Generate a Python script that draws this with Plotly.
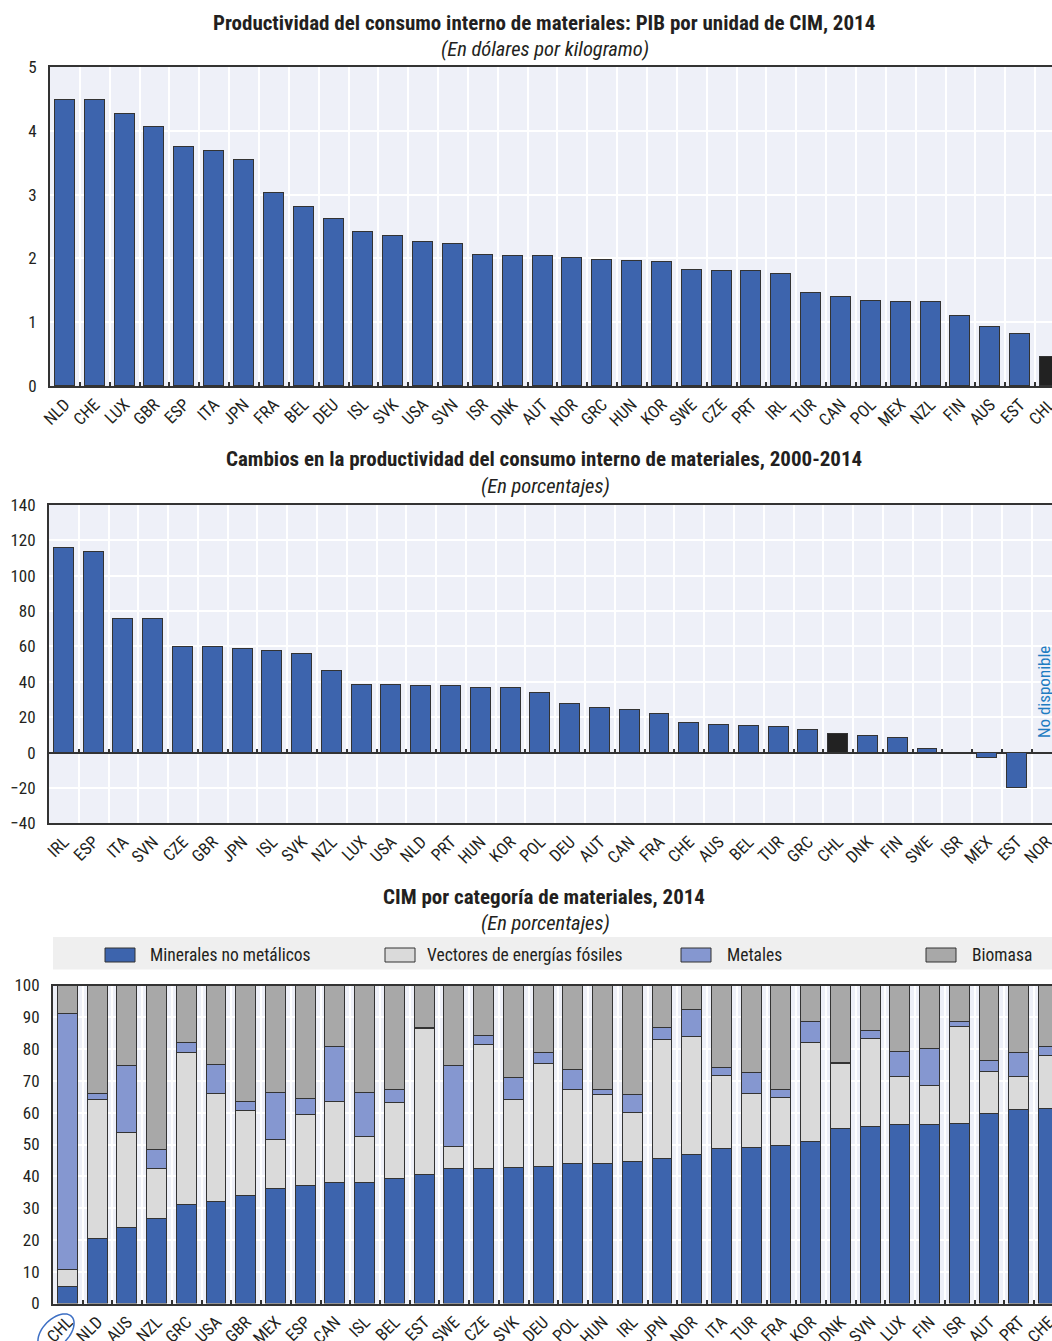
import math
import plotly.graph_objects as go

# ---------------- data ----------------
prod_countries = ["NLD", "CHE", "LUX", "GBR", "ESP", "ITA", "JPN", "FRA", "BEL", "DEU", "ISL", "SVK",
                  "USA", "SVN", "ISR", "DNK", "AUT", "NOR", "GRC", "HUN", "KOR", "SWE", "CZE", "PRT",
                  "IRL", "TUR", "CAN", "POL", "MEX", "NZL", "FIN", "AUS", "EST", "CHL"]
prod_values = [4.49, 4.48, 4.27, 4.06, 3.74, 3.69, 3.55, 3.03, 2.80, 2.62, 2.42, 2.35,
               2.25, 2.23, 2.05, 2.04, 2.03, 2.01, 1.98, 1.96, 1.95, 1.82, 1.81, 1.81,
               1.76, 1.46, 1.39, 1.34, 1.32, 1.32, 1.10, 0.92, 0.81, 0.45]

chg_countries = ["IRL", "ESP", "ITA", "SVN", "CZE", "GBR", "JPN", "ISL", "SVK", "NZL", "LUX", "USA",
                 "NLD", "PRT", "HUN", "KOR", "POL", "DEU", "AUT", "CAN", "FRA", "CHE", "AUS", "BEL",
                 "TUR", "GRC", "CHL", "DNK", "FIN", "SWE", "ISR", "MEX", "EST", "NOR"]
chg_values = [115.7, 113.4, 75.7, 75.4, 59.9, 59.7, 58.8, 57.3, 55.6, 46.2, 38.1, 38.1,
              37.9, 37.5, 36.6, 36.4, 33.8, 27.7, 25.1, 23.8, 21.7, 17.0, 15.8, 14.9,
              14.5, 12.5, 10.6, 9.4, 8.5, 1.9, 0.0, -3.2, -19.8, None]

cat_countries = ["CHL", "NLD", "AUS", "NZL", "GRC", "USA", "GBR", "MEX", "ESP", "CAN", "ISL", "BEL",
                 "EST", "SWE", "CZE", "SVK", "DEU", "POL", "HUN", "IRL", "JPN", "NOR", "ITA", "TUR",
                 "FRA", "KOR", "DNK", "SVN", "LUX", "FIN", "ISR", "AUT", "PRT", "CHE"]
minerales = [5.4, 20.5, 23.9, 26.7, 31.2, 32.1, 34.0, 36.1, 37.1, 38.1, 38.2, 39.4,
             40.6, 42.4, 42.6, 42.8, 43.2, 44.1, 44.1, 44.7, 45.5, 46.9, 48.7, 49.0,
             49.8, 50.9, 55.1, 55.6, 56.2, 56.2, 56.5, 59.8, 60.9, 61.4]
vectores = [5.3, 43.5, 29.8, 15.7, 47.6, 33.9, 26.8, 15.4, 22.3, 25.4, 14.4, 23.7,
            45.9, 7.1, 38.9, 21.4, 32.4, 23.3, 21.7, 15.4, 37.5, 37.0, 22.9, 17.0,
            15.1, 31.3, 20.5, 27.8, 15.2, 12.5, 30.5, 13.3, 10.6, 16.7]
metales = [80.4, 2.0, 21.3, 6.1, 3.4, 9.1, 2.7, 15.0, 5.1, 17.3, 13.7, 4.1,
           0.4, 25.3, 2.7, 6.8, 3.2, 6.1, 1.4, 5.7, 3.9, 8.5, 2.6, 6.8,
           2.3, 6.4, 0.2, 2.6, 7.8, 11.5, 1.6, 3.4, 7.5, 2.8]
biomasa = [8.9, 34.0, 25.0, 51.5, 17.8, 24.9, 36.5, 33.5, 35.5, 19.2, 33.7, 32.8,
           13.1, 25.2, 15.8, 29.0, 21.2, 26.5, 32.8, 34.2, 13.1, 7.6, 25.8, 27.2,
           32.8, 11.4, 24.2, 14.0, 20.8, 19.8, 11.4, 23.5, 21.0, 19.1]

series_names = ["Minerales no metálicos", "Vectores de energías fósiles", "Metales", "Biomasa"]

titles = [
    "Productividad del consumo interno de materiales: PIB por unidad de CIM, 2014",
    "Cambios en la productividad del consumo interno de materiales, 2000-2014",
    "CIM por categoría de materiales, 2014",
]
subtitles = ["(En dólares por kilogramo)", "(En porcentajes)", "(En porcentajes)"]
no_data_text = "No disponible"

# ---------------- styles ----------------
W, H = 1052, 1341
BLUE = "#3d64ad"
BLACK = "#222222"
BG = "#eef0f8"
EDGE = "#333333"
COL_VEC = "#dadada"
COL_MET = "#8597d0"
COL_BIO = "#a8a8a8"
TXT = "#231f20"
FONT = "Liberation Sans Narrow, Arial Narrow, Roboto Condensed, Liberation Sans, sans-serif"
BAR_W = 0.67


def py(p):
    return 1 - p / H


fig = go.Figure()

# chart 1
fig.add_trace(go.Bar(
    x=prod_countries, y=prod_values, xaxis="x", yaxis="y", width=BAR_W,
    marker=dict(color=[BLACK if c == "CHL" else BLUE for c in prod_countries],
                line=dict(color=EDGE, width=1)),
    showlegend=False))

# chart 2
fig.add_trace(go.Bar(
    x=chg_countries, y=chg_values, xaxis="x2", yaxis="y2", width=BAR_W,
    marker=dict(color=[BLACK if c == "CHL" else BLUE for c in chg_countries],
                line=dict(color=EDGE, width=1)),
    showlegend=False))
# helper (invisible) trace so that the zero-line tick axis knows the categories
fig.add_trace(go.Scatter(
    x=chg_countries, y=[0] * len(chg_countries), xaxis="x4", yaxis="y2",
    mode="markers", marker=dict(opacity=0), hoverinfo="skip", showlegend=False))

# chart 3
for name, vals, col in zip(series_names, [minerales, vectores, metales, biomasa],
                           [BLUE, COL_VEC, COL_MET, COL_BIO]):
    fig.add_trace(go.Bar(
        x=cat_countries, y=vals, name=name, xaxis="x3", yaxis="y3", width=BAR_W,
        marker=dict(color=col, line=dict(color=EDGE, width=1)), showlegend=False))

# domains (pixel based)
d1 = [py(386), py(67)]
d2 = [py(823.3), py(505)]
d3 = [py(1303.5), py(985.5)]
x1_left, x2_left, x3_left = 50, 49, 53
step1, step2, step3 = 29.85, 29.78, 29.73
r1 = [-0.5, (W - x1_left) / step1 - 0.5]
r2 = [-0.5, (W - x2_left) / step2 - 0.5]
r3 = [-0.5, (W - x3_left) / step3 - 0.5]

tickfont = dict(family=FONT, size=17, color=TXT)


def xax(left, rng, anchor, ticks=True):
    return dict(domain=[left / W, 1], anchor=anchor, type="category", range=rng,
                tickson="boundaries", ticks="inside" if ticks else "", ticklen=4,
                tickwidth=1.5, tickcolor=EDGE, tickangle=-45, tickfont=tickfont,
                showgrid=True, gridcolor="white", gridwidth=2,
                showline=True, linecolor=EDGE, linewidth=2, mirror=True,
                zeroline=False, fixedrange=True, automargin=False)


def yax(dom, rng, dtick, anchor):
    return dict(domain=dom, anchor=anchor, range=rng, dtick=dtick, tickfont=tickfont,
                showgrid=True, gridcolor="white", gridwidth=2,
                showline=True, linecolor=EDGE, linewidth=2, ticks="",
                ticklabelstandoff=8, zeroline=False, automargin=False)


zero_pos = d2[0] + (d2[1] - d2[0]) * (0 - (-40)) / (140 - (-40))

layout = dict(
    width=W, height=H, margin=dict(l=0, r=0, t=0, b=0, pad=0, autoexpand=False),
    paper_bgcolor="white", plot_bgcolor=BG, barmode="stack", bargap=0,
    font=dict(family=FONT, color=TXT),
    xaxis=xax(x1_left, r1, "y"),
    yaxis=yax(d1, [0, 5], 1, "x"),
    xaxis2=xax(x2_left, r2, "y2", ticks=False),
    yaxis2=yax(d2, [-40, 140], 20, "x2"),
    xaxis3=xax(x3_left, r3, "y3"),
    yaxis3=yax(d3, [0, 100], 10, "x3"),
    xaxis4=dict(overlaying="x2", anchor="free", position=zero_pos, type="category",
                range=r2, tickson="boundaries", ticks="inside", ticklen=4, tickwidth=1.5,
                tickcolor=EDGE, showticklabels=False, showgrid=False, showline=False,
                zeroline=False, automargin=False),
)
layout["yaxis2"].update(zeroline=True, zerolinecolor=EDGE, zerolinewidth=2)
fig.update_layout(**layout)

# titles
anns = []
for t, s, ty, sy in zip(titles, subtitles, [23, 459, 897], [49, 486, 923]):
    anns.append(dict(text="<b>%s</b>" % t, x=544 / W, y=py(ty), xref="paper", yref="paper",
                     showarrow=False, xanchor="center", yanchor="middle",
                     font=dict(family=FONT, size=21, color=TXT)))
    anns.append(dict(text="<i>%s</i>" % s, x=545 / W, y=py(sy), xref="paper", yref="paper",
                     showarrow=False, xanchor="center", yanchor="middle",
                     font=dict(family=FONT, size=20.5, color=TXT)))

# "No disponible"
anns.append(dict(text=no_data_text, x="NOR", y=34, xref="x2", yref="y2", showarrow=False,
                 textangle=-90, xanchor="center", yanchor="middle", xshift=-2,
                 font=dict(family=FONT, size=17, color="#1f7cc2")))

# manual legend
shapes = [dict(type="rect", xref="paper", yref="paper", x0=53 / W, x1=1, y0=py(969.5), y1=py(937),
               fillcolor="#efefef", line=dict(width=0), layer="below")]
sw_left = [105, 385, 681, 926]
txt_left = [148, 425, 725, 970]
for name, col, sl, tl in zip(series_names, [BLUE, COL_VEC, COL_MET, COL_BIO], sw_left, txt_left):
    shapes.append(dict(type="rect", xref="paper", yref="paper", x0=sl / W, x1=(sl + 30) / W,
                       y0=py(962), y1=py(948), fillcolor=col, line=dict(color=EDGE, width=1)))
    anns.append(dict(text=name, x=tl / W, y=py(955), xref="paper", yref="paper", showarrow=False,
                     xanchor="left", yanchor="middle", font=dict(family=FONT, size=17.5, color=TXT)))

# circle around CHL label (rotated ellipse)
cx, cy, a, b = 56, 1332, 22, 13
pts = []
for k in range(49):
    t = 2 * math.pi * k / 48
    ex, ey = a * math.cos(t), b * math.sin(t)
    rx = cx + ex * math.cos(math.radians(45)) - ey * math.sin(math.radians(45))
    ry = cy - (ex * math.sin(math.radians(45)) + ey * math.cos(math.radians(45)))
    pts.append((rx / W, py(ry)))
path = "M " + " L ".join("%.5f,%.5f" % p for p in pts) + " Z"
shapes.append(dict(type="path", xref="paper", yref="paper", path=path,
                   line=dict(color="#3d6fc4", width=1.5)))

fig.update_layout(annotations=anns, shapes=shapes)
fig.write_html(
    "out.html",
    config={"displayModeBar": False},
    post_script="document.body.style.margin='0';document.body.style.overflow='hidden';",
)
